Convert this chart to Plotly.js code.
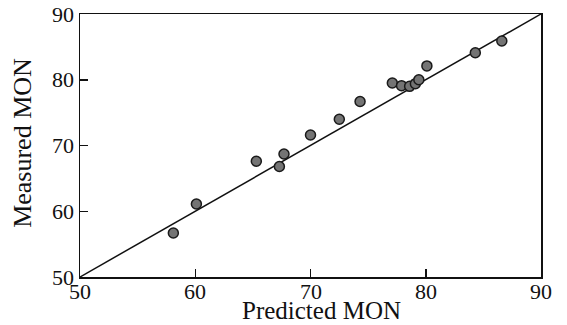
<!DOCTYPE html>
<html>
<head>
<meta charset="utf-8">
<script src="https://cdn.plot.ly/plotly-3.0.1.min.js"></script>
<style>html,body{margin:0;padding:0;background:#fff;}#chart{width:567px;height:325px;}</style>
</head>
<body>
<div id="chart"></div>
<script>
// Predicted vs measured MON
const predictedMON = [58.1, 60.1, 65.3, 67.3, 67.7, 70.0, 72.5, 74.3, 77.1, 77.9, 78.6, 79.1, 79.4, 80.1, 84.3, 86.6];
const measuredMON  = [56.7, 61.1, 67.6, 66.8, 68.7, 71.6, 74.0, 76.7, 79.5, 79.1, 79.0, 79.4, 80.0, 82.1, 84.1, 85.9];
const parityX = [50, 90];
const parityY = [50, 90];
const tickVals = [50, 60, 70, 80, 90];
const tickText = ['50', '60', '70', '80', '90'];
const xTitle = 'Predicted MON';
const yTitle = 'Measured MON';

const family = '"Liberation Serif", "DejaVu Serif", serif';
const tickFont = {family: family, color: '#111', size: 22};
const titleFont = {family: family, color: '#111', size: 25};

const traces = [
  {x: parityX, y: parityY, mode: 'lines', line: {color: '#111', width: 1.5}, hoverinfo: 'skip', showlegend: false},
  {x: predictedMON, y: measuredMON, mode: 'markers', showlegend: false,
   marker: {size: 10, color: '#747474', line: {color: '#1a1a1a', width: 1.5}}}
];

const axisCommon = {
  range: [50, 90], tickvals: tickVals, ticktext: tickText,
  ticks: 'inside', ticklen: 8, tickwidth: 1.5, tickcolor: '#111',
  showline: true, linecolor: '#111', linewidth: 1.5, mirror: true,
  showgrid: false, zeroline: false, tickfont: tickFont, automargin: false
};

// x tick labels sit closer to the axis than Plotly's default, so place them as annotations at the tick values
const xTickLabels = tickVals.map((v, i) => ({
  text: tickText[i], xref: 'x', yref: 'paper', x: v, y: 0, yshift: -14, borderpad: 0,
  height: 19, valign: 'middle',
  xanchor: 'center', yanchor: 'middle', showarrow: false, font: tickFont
}));

const layout = {
  width: 567, height: 325,
  margin: {l: 80, r: 26, t: 14, b: 48},
  paper_bgcolor: '#fff', plot_bgcolor: '#fff',
  font: tickFont,
  xaxis: Object.assign({}, axisCommon, {showticklabels: false}),
  yaxis: Object.assign({}, axisCommon),
  annotations: xTickLabels.concat([
    {text: xTitle, xref: 'paper', yref: 'paper', x: 0.524, y: 0, yshift: -48, borderpad: 0,
     height: 24, valign: 'bottom',
     xanchor: 'center', yanchor: 'bottom', showarrow: false, font: titleFont},
    {text: yTitle, xref: 'paper', yref: 'paper', x: 0, xshift: -57, y: 0.51, xanchor: 'center', yanchor: 'middle',
     textangle: -90, showarrow: false, font: Object.assign({}, titleFont, {size: 26})}
  ])
};

Plotly.newPlot('chart', traces, layout, {staticPlot: true, displayModeBar: false});
</script>
</body>
</html>
